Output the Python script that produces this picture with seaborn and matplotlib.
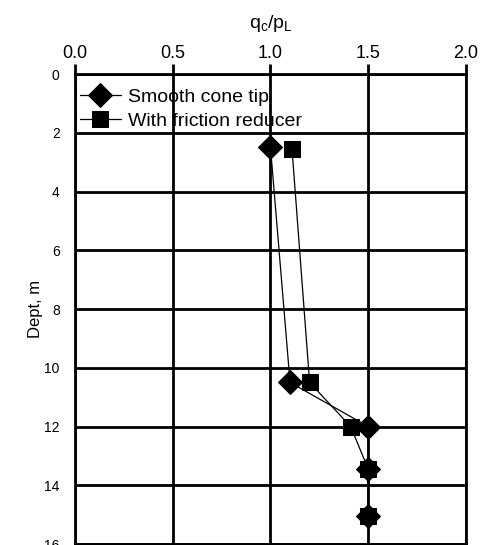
import pandas as pd
import seaborn as sns
import matplotlib.pyplot as plt

# depth profiles (qc/pL vs depth in m)
smooth_qc = [1.0, 1.1, 1.5, 1.5, 1.5]
smooth_depth = [2.5, 10.5, 12.0, 13.45, 15.05]
reducer_qc = [1.11, 1.2, 1.41, 1.5, 1.5]
reducer_depth = [2.55, 10.5, 12.0, 13.45, 15.05]
x_ticks = [0.0, 0.5, 1.0, 1.5, 2.0]
y_ticks = [0, 2, 4, 6, 8, 10, 12, 14, 16]

df_smooth = pd.DataFrame({'qc': smooth_qc, 'depth': smooth_depth})
df_reducer = pd.DataFrame({'qc': reducer_qc, 'depth': reducer_depth})

sns.set_style('white')
plt.rcParams['font.family'] = ['Liberation Sans', 'DejaVu Sans']
plt.rcParams['text.color'] = 'black'
plt.rcParams['axes.labelcolor'] = 'black'
plt.rcParams['xtick.color'] = 'black'
plt.rcParams['ytick.color'] = 'black'

fig = plt.figure(figsize=(4.82, 5.45), dpi=100)
ax = fig.add_axes([0.1556, 0.0018, 0.8112, 0.8624])

# estimator=None so repeated qc values are not averaged
sns.lineplot(data=df_smooth, x='qc', y='depth', sort=False, estimator=None,
             ax=ax, color='black', linewidth=0.9, marker='D', markersize=12,
             markeredgecolor='black', markerfacecolor='black',
             label='Smooth cone tip')
sns.lineplot(data=df_reducer, x='qc', y='depth', sort=False, estimator=None,
             ax=ax, color='black', linewidth=0.9, marker='s', markersize=11,
             markeredgecolor='black', markerfacecolor='black',
             label='With friction reducer')

ax.set_xlim(0, 2)
ax.set_ylim(16, 0)
ax.set_xticks(x_ticks)
ax.set_xticklabels([f'{v:.1f}' for v in x_ticks], fontsize=13)
ax.set_yticks(y_ticks)
ax.set_yticklabels([str(v) for v in y_ticks], fontsize=10)
ax.xaxis.tick_top()
ax.xaxis.set_label_position('top')
ax.tick_params(axis='x', direction='out', length=7, width=2, pad=2)
ax.tick_params(axis='y', direction='out', length=8, width=2, pad=3)
ax.set_xlabel(r'q$_\mathregular{c}$/p$_\mathregular{L}$', fontsize=14, labelpad=12)
ax.set_ylabel('Dept, m', fontsize=12, labelpad=1)

ax.grid(True, color='black', linewidth=2)
for s in ax.spines.values():
    s.set_color('black')
    s.set_linewidth(2)

ax.legend(loc='upper left', bbox_to_anchor=(0.012, 0.969), frameon=False,
          fontsize=14, handlelength=2.1, handletextpad=0.4, borderaxespad=0,
          labelspacing=0.3, borderpad=0)

fig.savefig('out.png', dpi=100)
